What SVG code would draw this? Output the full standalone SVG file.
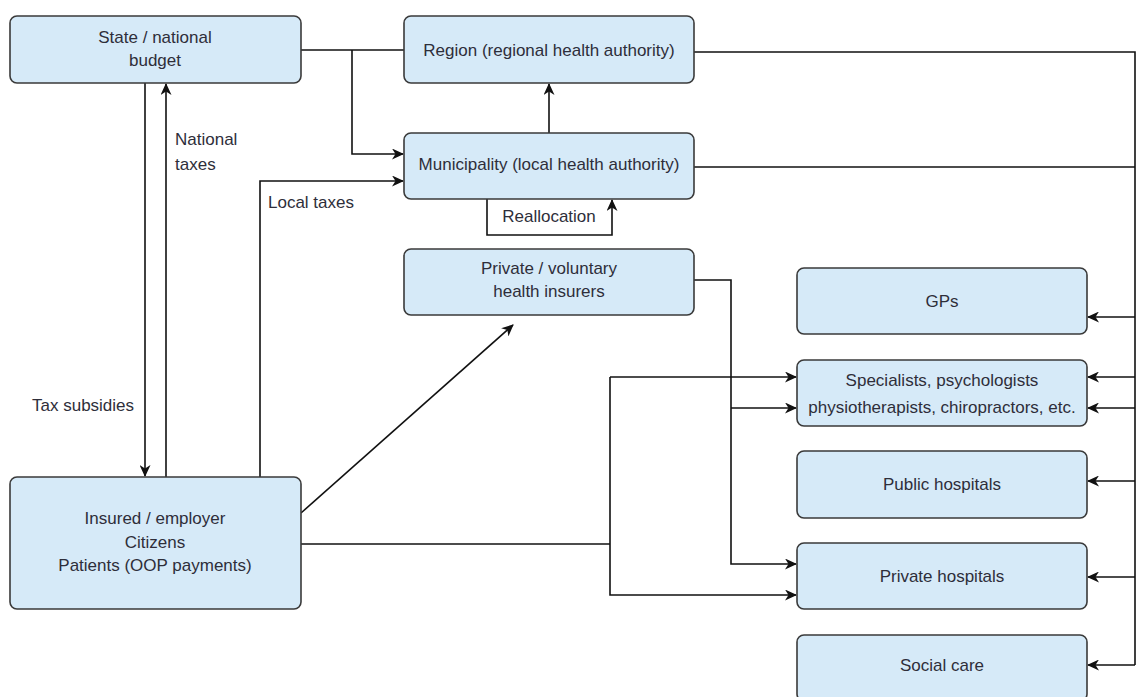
<svg xmlns="http://www.w3.org/2000/svg" width="1137" height="697" viewBox="0 0 1137 697">
<style>
.box{fill:#d6eaf8;stroke:#3a3a3a;stroke-width:1.6}
.t{font-family:"Liberation Sans",Arial,sans-serif;font-size:17px;fill:#2e2e3a;text-anchor:middle}
.l{font-family:"Liberation Sans",Arial,sans-serif;font-size:17px;fill:#2e2e3a}
.c{fill:none;stroke:#111;stroke-width:1.6}
.a{marker-end:url(#ah)}
</style>
<defs>
<marker id="ah" markerWidth="13" markerHeight="11" refX="11" refY="5.5" orient="auto" markerUnits="userSpaceOnUse">
<path d="M0,0 L12,5.5 L0,11 L3.5,5.5 Z" fill="#111"/>
</marker>
</defs>
<rect width="1137" height="697" fill="#fff"/>
<g id="connectors">
<path class="c" d="M301,50 H404"/>
<path class="c a" d="M352,50 V154 H403"/>
<path class="c a" d="M260,477 V181 H403"/>
<path class="c a" d="M145,83 V476"/>
<path class="c a" d="M166,477 V84"/>
<path class="c a" d="M549,133 V84"/>
<path class="c a" d="M487,199 V235 H612 V200"/>
<path class="c" d="M694,52 H1135 V665"/>
<path class="c" d="M694,167 H1135"/>
<path class="c a" d="M1135,317 H1088"/>
<path class="c a" d="M1135,377 H1088"/>
<path class="c a" d="M1135,408 H1088"/>
<path class="c a" d="M1135,481 H1088"/>
<path class="c a" d="M1135,577 H1088"/>
<path class="c a" d="M1135,665 H1088"/>
<path class="c a" d="M694,280 H731 V564 H796"/>
<path class="c a" d="M731,408 H796"/>
<path class="c" d="M301,544 H610"/>
<path class="c a" d="M610,377 H796"/>
<path class="c a" d="M610,377 V595 H796"/>
<path class="c a" d="M301,513 L513,325"/>
<text class="l" x="175" y="145">National</text>
<text class="l" x="175" y="170">taxes</text>
<text class="l" x="268" y="208">Local taxes</text>
<text class="l" x="32" y="411">Tax subsidies</text>
<text class="t" x="549" y="222">Reallocation</text>
</g>
<g id="state"><rect class="box" x="10" y="16" width="291" height="67" rx="7"/><text class="t" x="155" y="43">State / national</text><text class="t" x="155" y="66">budget</text></g>
<g id="region"><rect class="box" x="404" y="16" width="290" height="67" rx="7"/><text class="t" x="549" y="56">Region (regional health authority)</text></g>
<g id="municipality"><rect class="box" x="404" y="133" width="290" height="66" rx="7"/><text class="t" x="549" y="170">Municipality (local health authority)</text></g>
<g id="private-insurers"><rect class="box" x="404" y="249" width="290" height="66" rx="7"/><text class="t" x="549" y="274">Private / voluntary</text><text class="t" x="549" y="297">health insurers</text></g>
<g id="insured"><rect class="box" x="10" y="477" width="291" height="132" rx="7"/><text class="t" x="155" y="524">Insured / employer</text><text class="t" x="155" y="548">Citizens</text><text class="t" x="155" y="571">Patients (OOP payments)</text></g>
<g id="gps"><rect class="box" x="797" y="268" width="290" height="66" rx="7"/><text class="t" x="942" y="307">GPs</text></g>
<g id="specialists"><rect class="box" x="797" y="360" width="290" height="66" rx="7"/><text class="t" x="942" y="386">Specialists, psychologists</text><text class="t" x="942" y="413">physiotherapists, chiropractors, etc.</text></g>
<g id="public-hospitals"><rect class="box" x="797" y="451" width="290" height="67" rx="7"/><text class="t" x="942" y="490">Public hospitals</text></g>
<g id="private-hospitals"><rect class="box" x="797" y="543" width="290" height="66" rx="7"/><text class="t" x="942" y="582">Private hospitals</text></g>
<g id="social-care"><rect class="box" x="797" y="635" width="290" height="66" rx="7"/><text class="t" x="942" y="671">Social care</text></g>
</svg>
